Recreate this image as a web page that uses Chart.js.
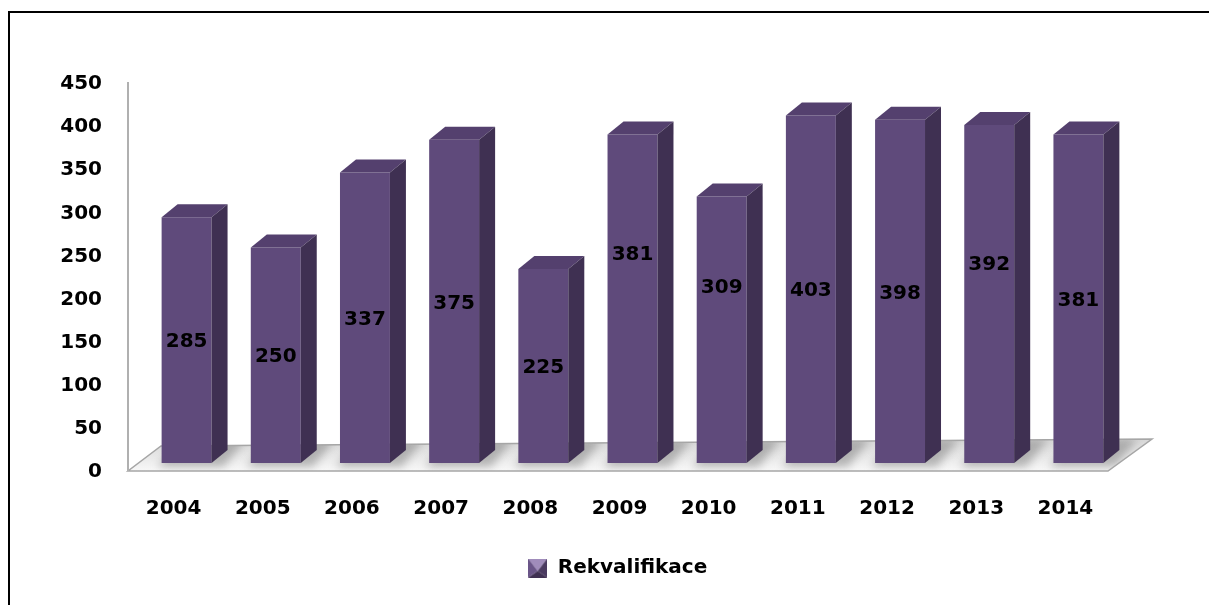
<!DOCTYPE html>
<html>
<head>
<meta charset="utf-8">
<script src="https://cdn.jsdelivr.net/npm/chart.js@4.4.1/dist/chart.umd.min.js"></script>
<style>
  html, body { margin: 0; background: #fff; overflow: hidden; }
  #wrap { position: relative; width: 1209px; height: 605px; overflow: hidden; }
  #frame { position: absolute; left: 8px; top: 11px; width: 1400px; height: 800px; border: 2px solid #000; }
  canvas { position: absolute; left: 0; top: 0; }
</style>
</head>
<body>
<div id="wrap">
  <div id="frame"></div>
  <canvas id="chart" width="1209" height="605"></canvas>
</div>
<script>
// Počty rekvalifikací po letech
const years = ["2004", "2005", "2006", "2007", "2008", "2009", "2010", "2011", "2012", "2013", "2014"];
const counts = [285, 250, 337, 375, 225, 381, 309, 403, 398, 392, 381];
const seriesName = "Rekvalifikace";
const yMin = 0, yMax = 450, yStep = 50;

const FONT = { family: "'DejaVu Sans', sans-serif", size: 20, weight: "bold" };
const FRONT = "#5f4a7b", SIDE = "#3f3052", TOP = "#54406e";
const DX = 16, DY = -13;          // hloubka sloupce
// ručně posunuté popisky (px)
const labelNudge = { 5: -46, 6: -44, 9: -31 };
// legenda je v rámečku posunutá doprava
const LEGEND_SHIFT = 43;

function legendMarker() {
  const c = document.createElement("canvas");
  c.width = 19; c.height = 19;
  const g = c.getContext("2d");
  const s = 19, m = 9.5;
  const faces = [
    [[0, 0], [s, 0], "#a08cbb"],
    [[s, 0], [s, s], "#4a3a60"],
    [[s, s], [0, s], "#3f3052"],
    [[0, s], [0, 0], "#6a5588"],
  ];
  faces.forEach(([a, b, col]) => {
    g.beginPath();
    g.moveTo(a[0], a[1]); g.lineTo(b[0], b[1]); g.lineTo(m, m + 3);
    g.closePath();
    g.fillStyle = col;
    g.fill();
  });
  return c;
}

// podlaha, osa a 3D strany sloupců
const bar3d = {
  id: "bar3d",
  afterLayout(chart) {
    chart.legend.left += LEGEND_SHIFT;
    chart.legend.right += LEGEND_SHIFT;
  },
  beforeDatasetsDraw(chart) {
    const { ctx, chartArea: a } = chart;
    const x0 = a.left - 14, x1 = a.right - 15, fy = a.bottom + 8;
    ctx.save();
    ctx.beginPath();
    ctx.moveTo(x0, fy);
    ctx.lineTo(x1, fy);
    ctx.lineTo(x1 + 44, fy - 32);
    ctx.lineTo(x0 + 33, fy - 25);
    ctx.closePath();
    const g = ctx.createLinearGradient(0, fy - 30, 0, fy);
    g.addColorStop(0, "#d8d8d8");
    g.addColorStop(1, "#f8f8f8");
    ctx.fillStyle = g;
    ctx.fill();

    // měkké stíny sloupců na podlaze
    ctx.save();
    ctx.clip();
    ctx.filter = "blur(4px)";
    ctx.fillStyle = "rgba(110,110,110,0.45)";
    chart.getDatasetMeta(0).data.forEach((bar) => {
      const { x, base, width } = bar.getProps(["x", "base", "width"], true);
      const l = x - width / 2 - 4, r = x + width / 2 + DX + 10;
      ctx.beginPath();
      ctx.moveTo(l, base + 4);
      ctx.lineTo(r - 14, base + 4);
      ctx.lineTo(r + 8, base - 24);
      ctx.lineTo(l + 22, base - 24);
      ctx.closePath();
      ctx.fill();
    });
    ctx.restore();

    ctx.beginPath();
    ctx.moveTo(x0, fy);
    ctx.lineTo(x1, fy);
    ctx.lineTo(x1 + 44, fy - 32);
    ctx.lineTo(x0 + 33, fy - 25);
    ctx.closePath();
    ctx.strokeStyle = "#a6a6a6";
    ctx.lineWidth = 1.5;
    ctx.stroke();

    ctx.beginPath();
    ctx.moveTo(x0, fy);
    ctx.lineTo(x0, a.top + 7);
    ctx.lineWidth = 2;
    ctx.strokeStyle = "#b0b0b0";
    ctx.stroke();
    ctx.restore();
  },
  afterDatasetsDraw(chart) {
    const { ctx } = chart;
    const meta = chart.getDatasetMeta(0);
    ctx.save();
    meta.data.forEach((bar, i) => {
      const { x, y, base, width } = bar.getProps(["x", "y", "base", "width"], true);
      const l = x - width / 2, r = x + width / 2;

      ctx.beginPath();
      ctx.moveTo(l, y);
      ctx.lineTo(r, y);
      ctx.lineTo(r + DX, y + DY);
      ctx.lineTo(l + DX, y + DY);
      ctx.closePath();
      ctx.fillStyle = TOP;
      ctx.fill();

      ctx.beginPath();
      ctx.moveTo(r, y);
      ctx.lineTo(r + DX, y + DY);
      ctx.lineTo(r + DX, base + DY);
      ctx.lineTo(r, base);
      ctx.closePath();
      ctx.fillStyle = SIDE;
      ctx.fill();

      ctx.font = `${FONT.weight} ${FONT.size}px ${FONT.family}`;
      ctx.fillStyle = "#000";
      ctx.textAlign = "center";
      ctx.textBaseline = "middle";
      ctx.fillText(String(counts[i]), x, (y + base) / 2 + 2 + (labelNudge[i] || 0));
    });
    ctx.restore();
  }
};

new Chart(document.getElementById("chart"), {
  type: "bar",
  data: {
    labels: years,
    datasets: [
      {
        label: seriesName,
        data: counts,
        backgroundColor: FRONT,
        borderWidth: 0,
        barPercentage: 0.56,
        categoryPercentage: 1,
      },
    ],
  },
  options: {
    responsive: false,
    animation: false,
    layout: { padding: { left: 26, right: 86, top: 75, bottom: 17 } },
    plugins: {
      tooltip: { enabled: false },
      legend: {
        position: "bottom",
        labels: {
          usePointStyle: true,
          pointStyle: legendMarker(),
          color: "#000",
          font: FONT,
          padding: 10,
        },
      },
    },
    scales: {
      x: {
        grid: { display: false, drawTicks: false },
        border: { display: false },
        ticks: { color: "#000", font: FONT, padding: 34, labelOffset: -13, maxRotation: 0 },
        afterFit(scale) { scale.height = 85; },
      },
      y: {
        min: yMin,
        max: yMax,
        grid: { display: false, drawTicks: false },
        border: { display: false },
        ticks: { stepSize: yStep, color: "#000", font: FONT, padding: 40, labelOffset: 9 },
        afterFit(scale) { scale.width = 116; },
      },
    },
  },
  plugins: [bar3d],
});
</script>
</body>
</html>
